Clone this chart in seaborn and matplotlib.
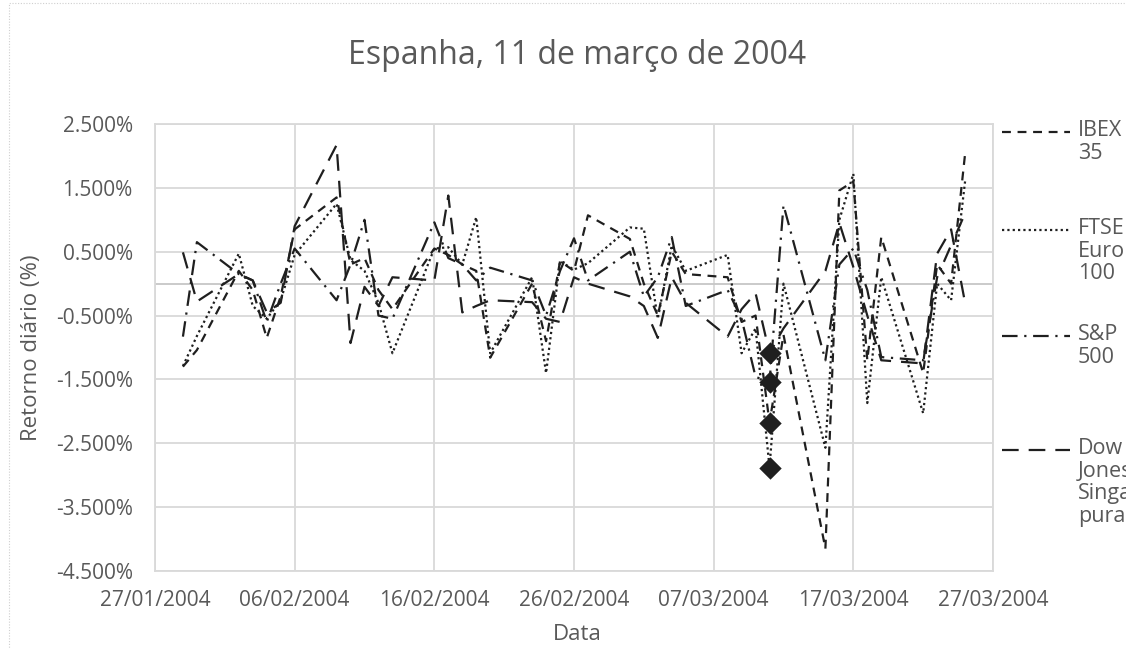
import pandas as pd
import matplotlib
matplotlib.use("Agg")
import matplotlib.pyplot as plt
import matplotlib.dates as mdates
from matplotlib.ticker import FuncFormatter
from matplotlib.lines import Line2D
from matplotlib.patches import Rectangle
import seaborn as sns

# ---- dados (retorno diário, %) ----
dates = [
    "2004-01-29", "2004-01-30", "2004-02-02", "2004-02-03", "2004-02-04", "2004-02-05",
    "2004-02-06", "2004-02-09", "2004-02-10", "2004-02-11", "2004-02-12", "2004-02-13",
    "2004-02-16", "2004-02-17", "2004-02-18", "2004-02-19", "2004-02-20", "2004-02-23",
    "2004-02-24", "2004-02-25", "2004-02-26", "2004-02-27", "2004-03-01", "2004-03-02",
    "2004-03-03", "2004-03-04", "2004-03-05", "2004-03-08", "2004-03-09", "2004-03-10",
    "2004-03-11", "2004-03-12", "2004-03-15", "2004-03-16", "2004-03-17", "2004-03-18",
    "2004-03-19", "2004-03-22", "2004-03-23", "2004-03-24", "2004-03-25",
]
ibex = [-1.30, -1.04, 0.20, -0.10, -0.85, -0.20, 0.85, 1.35, 0.30, 0.40, -0.10, -0.40,
        0.55, 0.45, 0.30, 0.20, -1.16, 0.00, -0.90, 0.35, 0.20, 1.07, 0.70, 0.00,
        -0.50, 0.50, 0.15, 0.10, -0.60, -0.50, -2.18, -0.80, -4.15, 1.46, 1.60, -1.20,
        0.73, -1.40, 0.30, 0.00, 2.03]
ftse = [-1.29, -0.82, 0.47, -0.35, -0.55, -0.26, 0.45, 1.25, 0.37, 0.20, -0.30, -1.09,
        0.55, 0.57, 0.30, 1.04, -1.09, 0.10, -1.40, 0.35, 0.22, 0.32, 0.88, 0.86,
        -0.55, 0.60, 0.20, 0.45, -1.09, -0.70, -2.88, 0.00, -2.57, 1.00, 1.72, -1.87,
        0.10, -2.03, 0.00, -0.26, 1.60]
sp500 = [-0.83, 0.65, 0.15, 0.05, -0.60, 0.00, 0.55, -0.26, 0.30, 1.00, -0.50, -0.55,
         0.96, 0.40, 0.30, 0.05, 0.25, 0.05, -0.50, 0.20, 0.71, 0.05, 0.50, -0.20,
         0.10, 0.73, -0.35, -0.10, -0.55, -1.46, -1.54, 1.23, -1.20, 0.30, 0.55, -0.10,
         -1.15, -1.20, 0.10, 0.60, 1.10]
djs = [0.49, -0.28, 0.15, 0.05, -0.45, -0.30, 0.90, 2.17, -0.93, -0.05, -0.35, 0.10,
       0.05, 1.38, -0.45, -0.35, -0.26, -0.29, -0.55, -0.60, 0.10, 0.00, -0.20, -0.35,
       -0.85, 0.10, -0.30, -0.83, -0.40, -0.15, -1.09, -0.70, 0.20, 0.95, 0.26, -0.50,
       -1.20, -1.25, 0.47, 0.85, -0.30]

series_names = ["IBEX 35", "FTSE Euro 100", "S&P 500", "Dow Jones Singapura"]
legend_labels = ["IBEX\n35", "FTSE\nEuro\n100", "S&P\n500", "Dow\nJones\nSinga\npura"]
event_date = "2004-03-11"
x_ticks = ["2004-01-27", "2004-02-06", "2004-02-16", "2004-02-26",
           "2004-03-07", "2004-03-17", "2004-03-27"]
y_ticks = [-4.5, -3.5, -2.5, -1.5, -0.5, 0.5, 1.5, 2.5]

# ---- estilo ----
ink = "#1f1f1f"
grey = "#595959"
grid_c = "#d9d9d9"
dash_styles = {
    "IBEX 35": (4, 3),
    "FTSE Euro 100": (1, 1.4),
    "S&P 500": (7, 3, 1, 3),
    "Dow Jones Singapura": (7.5, 4.5),
}

sns.set_theme(style="white")
plt.rcParams["font.family"] = ["Open Sans", "DejaVu Sans"]

df = pd.DataFrame({"Data": pd.to_datetime(dates),
                   "IBEX 35": ibex, "FTSE Euro 100": ftse,
                   "S&P 500": sp500, "Dow Jones Singapura": djs})
df = df.melt(id_vars="Data", var_name="Indice", value_name="Retorno")

W, H = 1126, 648
fig = plt.figure(figsize=(W / 100, H / 100), dpi=100)
ax = fig.add_axes([155 / W, 1 - 571 / H, (993 - 155) / W, (571 - 124) / H])

sns.lineplot(data=df, x="Data", y="Retorno", hue="Indice", style="Indice",
             palette={n: ink for n in series_names}, dashes=dash_styles,
             linewidth=1.6, legend=False, ax=ax, zorder=3)

# marcador no dia do atentado
ev = df[df["Data"] == pd.Timestamp(event_date)]
sns.scatterplot(data=ev, x="Data", y="Retorno", marker="D", s=130,
                color=ink, edgecolor=ink, linewidth=0, legend=False, ax=ax, zorder=4)

ax.set_xlim(pd.Timestamp(x_ticks[0]), pd.Timestamp(x_ticks[-1]))
ax.set_ylim(y_ticks[0], y_ticks[-1])
ax.set_xticks(pd.to_datetime(x_ticks))
ax.xaxis.set_major_formatter(mdates.DateFormatter("%d/%m/%Y"))
ax.set_yticks(y_ticks)
ax.yaxis.set_major_formatter(FuncFormatter(lambda v, p: f"{v:.3f}%"))

ax.grid(True, color=grid_c, lw=1.3)
ax.set_axisbelow(True)
for s in ax.spines.values():
    s.set_color(grid_c)
    s.set_linewidth(1.3)
ax.axhline(0, color="#c6c6c6", lw=1.3, zorder=2)
ax.tick_params(length=0, labelsize=15, labelcolor=grey)
ax.tick_params(axis="y", pad=16)
ax.tick_params(axis="x", pad=14)
ax.set_xlabel("")
ax.set_ylabel("")

fig.text(577 / W, 1 - 56 / H, "Espanha, 11 de março de 2004", ha="center", va="center",
         fontsize=23, color=grey)
fig.text(32 / W, 1 - 348 / H, "Retorno diário (%)", rotation=90, ha="center", va="center",
         fontsize=16, color=grey)
fig.text(577 / W, 1 - 634 / H, "Data", ha="center", va="center", fontsize=16, color=grey)

# legenda à direita (cortada pela borda, como no original)
legend_y = [132, 230, 336, 450]
for name, label, y in zip(series_names, legend_labels, legend_y):
    fig.add_artist(Line2D([1002 / W, 1070 / W], [1 - y / H] * 2, transform=fig.transFigure,
                          color=ink, lw=1.6, dashes=dash_styles[name]))
    fig.text(1078 / W, 1 - (y - 12) / H, label, ha="left", va="top", fontsize=15.5,
             color=grey, linespacing=1.1)

# borda pontilhada da área do gráfico
fig.add_artist(Rectangle((9 / W, -0.1), 1.2, 1.1 - 3 / H, transform=fig.transFigure,
                         fill=False, ec="#cfcfcf", lw=0.8, ls=(0, (1, 1.5))))

fig.savefig("out.png", dpi=100)
